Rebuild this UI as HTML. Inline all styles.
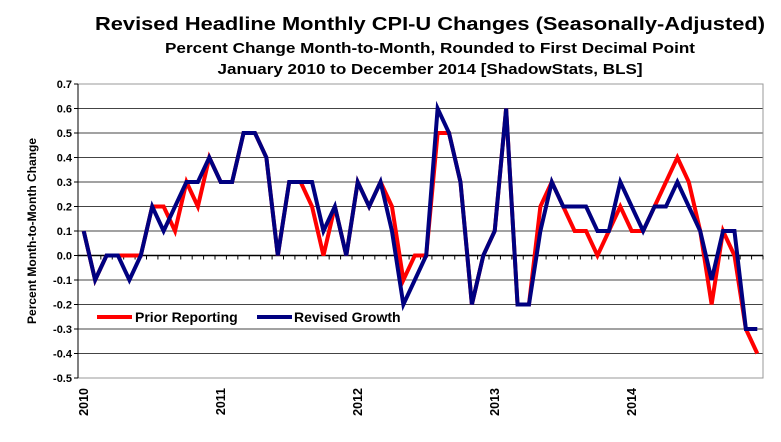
<!DOCTYPE html>
<html><head><meta charset="utf-8"><style>
html,body{margin:0;padding:0;background:#fff;}
svg{display:block;font-family:"Liberation Sans",Arial,sans-serif;}
</style></head><body>
<svg id="chart" width="781" height="442" viewBox="0 0 781 442">
<text x="430" y="30" text-anchor="middle" font-size="18" font-weight="bold" textLength="670" lengthAdjust="spacingAndGlyphs">Revised Headline Monthly CPI-U Changes (Seasonally-Adjusted)</text>
<text x="430" y="53" text-anchor="middle" font-size="15" font-weight="bold" textLength="530" lengthAdjust="spacingAndGlyphs">Percent Change Month-to-Month, Rounded to First Decimal Point</text>
<text x="430" y="74" text-anchor="middle" font-size="15" font-weight="bold" textLength="425" lengthAdjust="spacingAndGlyphs">January 2010 to December 2014 [ShadowStats, BLS]</text>
<text transform="translate(36,231) rotate(-90)" text-anchor="middle" font-size="12" font-weight="bold">Percent Month-to-Month Change</text>
<g id="grid"></g>
<rect x="78" y="84" width="685" height="294" fill="none" stroke="#999" stroke-width="1"/>
<g id="axes"></g>
<g id="series"></g>
<g>
<line x1="97" y1="317" x2="132" y2="317" stroke="#ff0000" stroke-width="4"/>
<text x="135" y="322" font-size="14" font-weight="bold">Prior Reporting</text>
<line x1="257" y1="317" x2="292" y2="317" stroke="#000080" stroke-width="4"/>
<text x="294" y="322" font-size="14" font-weight="bold">Revised Growth</text>
</g>
</svg>
<script>
const yTicks = [0.7,0.6,0.5,0.4,0.3,0.2,0.1,0.0,-0.1,-0.2,-0.3,-0.4,-0.5];
const yearLabels = ["2010","2011","2012","2013","2014"];
const prior = [0.1,-0.1,0,0,0,0,0.2,0.2,0.1,0.3,0.2,0.4,
 0.3,0.3,0.5,0.5,0.4,0,0.3,0.3,0.2,0,0.2,0,
 0.3,0.2,0.3,0.2,-0.1,0,0,0.5,0.5,0.3,-0.2,0,
 0.1,0.6,-0.2,-0.2,0.2,0.3,0.2,0.1,0.1,0,0.1,0.2,
 0.1,0.1,0.2,0.3,0.4,0.3,0.1,-0.2,0.1,0,-0.3,-0.4];
const revised = [0.1,-0.1,0,0,-0.1,0,0.2,0.1,0.2,0.3,0.3,0.4,
 0.3,0.3,0.5,0.5,0.4,0,0.3,0.3,0.3,0.1,0.2,0,
 0.3,0.2,0.3,0.1,-0.2,-0.1,0,0.6,0.5,0.3,-0.2,0,
 0.1,0.6,-0.2,-0.2,0.1,0.3,0.2,0.2,0.2,0.1,0.1,0.3,
 0.2,0.1,0.2,0.2,0.3,0.2,0.1,-0.1,0.1,0.1,-0.3,-0.3];
const NS="http://www.w3.org/2000/svg";
const L=78,R=763,T=84,B=378,yMax=0.7,yMin=-0.5,N=revised.length;
const bw=(R-L)/N;
function xPos(i){return L+bw*(i+0.5);}
function yPos(v){return T+(yMax-v)/(yMax-yMin)*(B-T);}
function mk(tag,attrs,parent){const e=document.createElementNS(NS,tag);for(const k in attrs)e.setAttribute(k,attrs[k]);parent.appendChild(e);return e;}
const grid=document.getElementById('grid'),axes=document.getElementById('axes'),series=document.getElementById('series');
yTicks.forEach(v=>{
  const y=yPos(v);
  if(v!==yMax&&v!==yMin){const g=mk('line',{x1:L,x2:R,y1:y,y2:y,stroke:'#444','stroke-width':1},grid);
  
  }
  const t=mk('line',{x1:L-4,x2:L,y1:y,y2:y,stroke:'#000'},axes);
  
  
  const lb=mk('text',{x:L-6,y:y+4,'text-anchor':'end','font-size':11,'font-weight':'bold'},axes);
  lb.textContent=v.toFixed(1);
  
  
});
const y0=yPos(0);
const zl=mk('line',{x1:L,x2:R,y1:y0,y2:y0,stroke:'#000','stroke-width':1.5},axes);


for(let i=0;i<=N;i++){const x=L+bw*i;const t=mk('line',{x1:x,x2:x,y1:y0,y2:y0+4,stroke:'#000'},axes);

}
const ya=mk('line',{x1:L,x2:L,y1:T,y2:B,stroke:'#000'},axes);


yearLabels.forEach((s,k)=>{const x=xPos(k*12)+4.5;
  const t=mk('text',{transform:`translate(${x},${B+10}) rotate(-90)`,'text-anchor':'end','font-size':12.5,'font-weight':'bold'},axes);
  t.textContent=s;
  
  });
function line(data,color,name){
  const p=mk('polyline',{points:data.map((v,i)=>xPos(i)+','+yPos(v)).join(' '),fill:'none',stroke:color,'stroke-width':4,'stroke-linejoin':'miter'},series);
  
  
}
line(prior,'#ff0000','prior-reporting-line');
line(revised,'#000080','revised-growth-line');
</script>
</body></html>
